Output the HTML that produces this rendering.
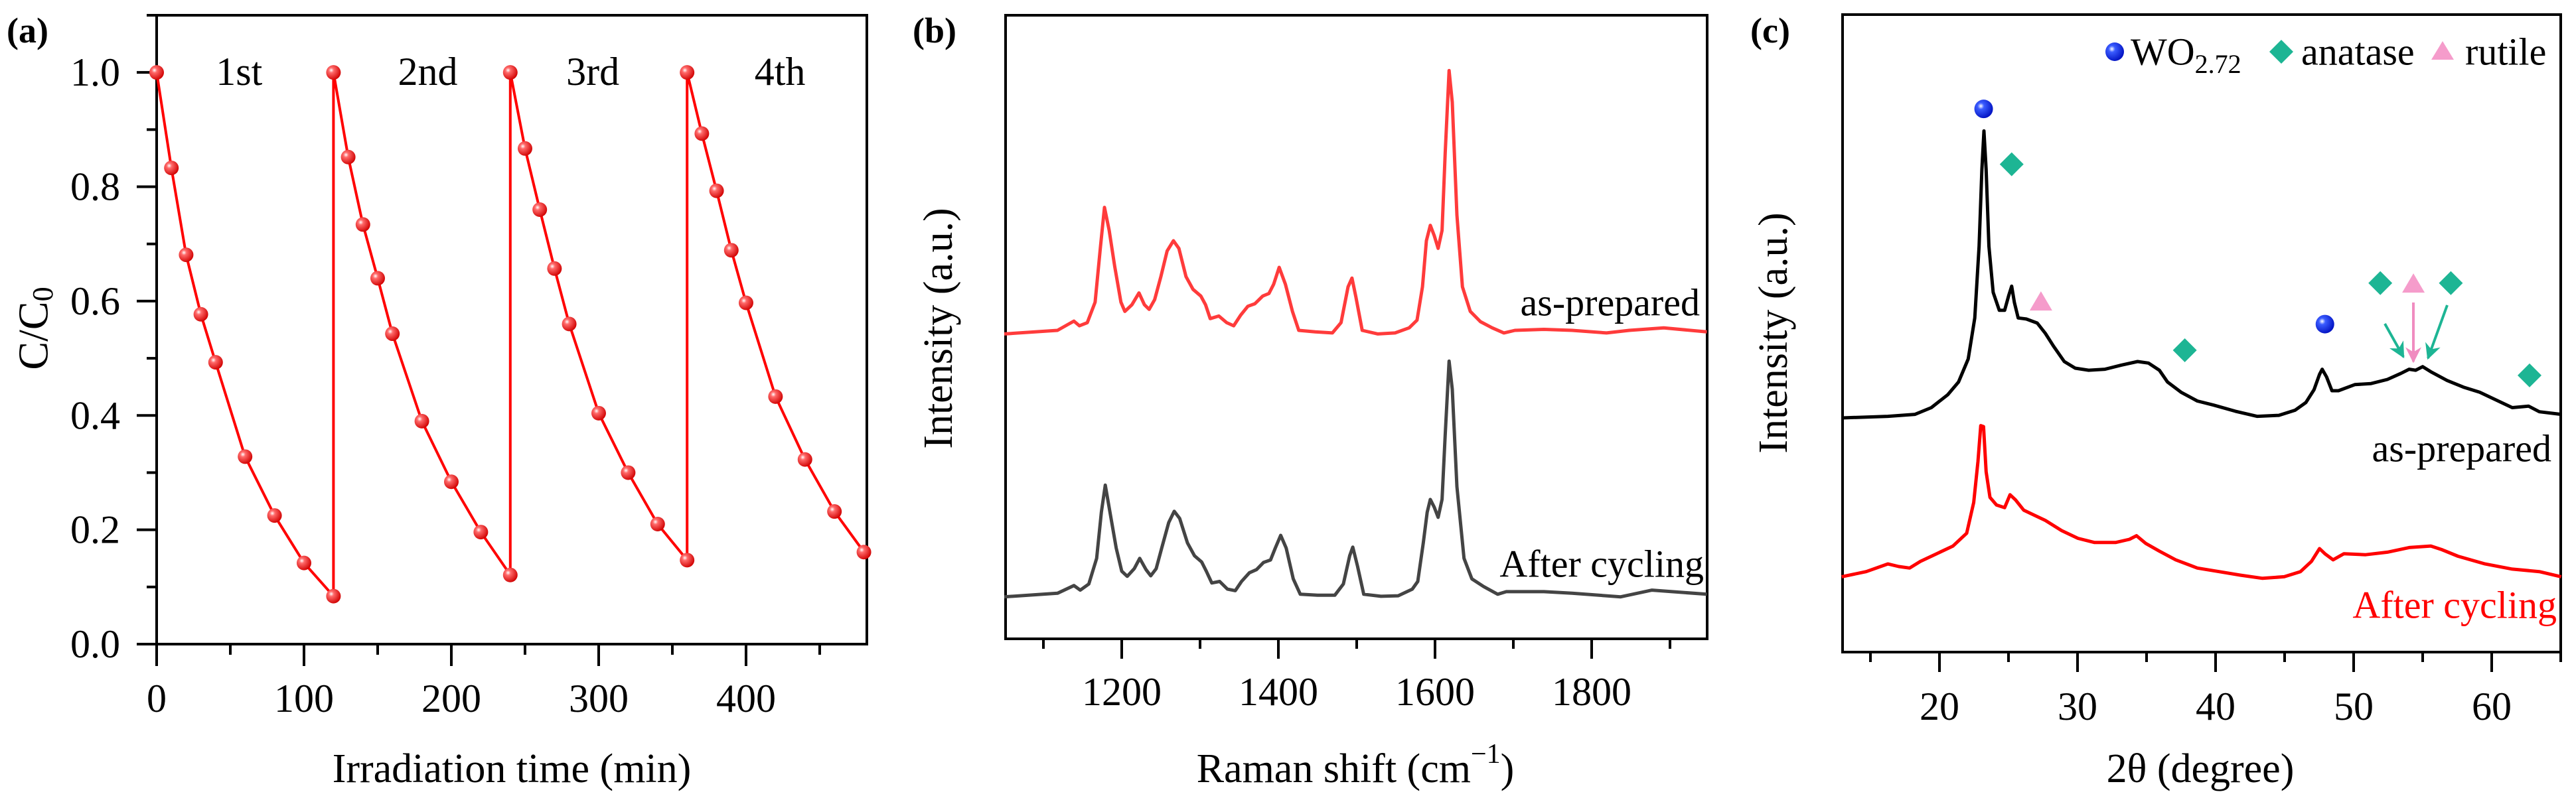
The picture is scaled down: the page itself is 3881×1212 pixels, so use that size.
<!DOCTYPE html>
<html><head><meta charset="utf-8">
<style>
html,body{margin:0;padding:0;background:#fff;}
svg{display:block;font-family:"Liberation Serif","DejaVu Serif",serif;}
</style></head>
<body>
<svg id="fig" width="3881" height="1212" viewBox="0 0 3881 1212" xmlns="http://www.w3.org/2000/svg">
<defs>
<radialGradient id="gRed" cx="0.35" cy="0.35" r="0.7"><stop offset="0" stop-color="#fff"/><stop offset="0.25" stop-color="#ff6a6a"/><stop offset="1" stop-color="#d00000"/></radialGradient>
<radialGradient id="gBlue" cx="0.35" cy="0.35" r="0.7"><stop offset="0" stop-color="#fff"/><stop offset="0.25" stop-color="#3a5cff"/><stop offset="1" stop-color="#0010c0"/></radialGradient>
<marker id="arrT" viewBox="0 0 10 10" refX="9" refY="5" markerWidth="6" markerHeight="6" orient="auto"><path d="M0,0 L10,5 L0,10 L3,5z" fill="#1db594"/></marker>
<marker id="arrP" viewBox="0 0 10 10" refX="9" refY="5" markerWidth="6" markerHeight="6" orient="auto"><path d="M0,0 L10,5 L0,10 L3,5z" fill="#f08cc0"/></marker>
</defs>
</svg>
<script>
// ---------- Panel (a) data ----------
const aCycleTimes = [0,10,20,30,40,60,80,100,120];
const aValues = [1.0,0.833,0.681,0.577,0.493,0.328,0.225,0.142,0.084,
                 1.0,0.852,0.734,0.640,0.543,0.390,0.284,0.196,0.121,
                 1.0,0.867,0.760,0.657,0.560,0.404,0.300,0.210,0.147,
                 1.0,0.893,0.793,0.689,0.597,0.433,0.323,0.232,0.161];
const aCycleLabels = ["1st","2nd","3rd","4th"];
const aCycleLabelX = [56,184,296,423];
const aXTicks = [0,100,200,300,400];
const aYTicks = [0.0,0.2,0.4,0.6,0.8,1.0];

// ---------- Panel (b) data ----------
const bRedX = [1050,1118,1133,1139,1146,1156,1166,1173,1178,1184,1191,1199,1204,1213,1222,1229,1235,1242,1250,1258,1266,1273,1282,1291,1301,1307,1313,1324,1334,1343,1352,1361,1370,1380,1388,1394,1401,1409,1418,1426,1447,1469,1480,1489,1494,1499,1507,1527,1549,1567,1577,1584,1589,1594,1599,1604,1609,1613,1618,1622,1628,1635,1645,1658,1673,1688,1702,1739,1775,1819,1848,1892,1947];
const bRedY = [595,602,615,620,611,617,657,767,842,797,727,657,639,652,675,652,643,662,707,757,777,762,707,682,669,652,625,630,617,611,632,649,654,669,674,692,725,692,639,602,599,597,617,687,704,667,602,595,597,607,622,687,777,807,787,762,797,947,1109,1047,827,687,639,619,607,597,602,604,602,597,602,607,599];
const bGrayX = [1050,1118,1139,1147,1158,1168,1174,1179,1185,1193,1200,1207,1216,1223,1231,1237,1244,1251,1260,1267,1274,1284,1293,1302,1308,1315,1325,1335,1345,1353,1363,1372,1381,1390,1396,1403,1410,1419,1428,1450,1472,1483,1491,1495,1501,1509,1531,1553,1571,1578,1585,1590,1594,1599,1604,1609,1613,1618,1622,1628,1637,1647,1662,1680,1691,1739,1775,1837,1877,1947];
const bGrayY = [82,89,104,95,107,157,247,300,247,177,132,122,137,157,135,123,137,177,227,249,235,187,162,150,132,109,112,97,94,112,129,135,149,154,177,202,177,117,87,85,85,107,162,179,142,87,83,84,97,112,187,247,272,257,237,272,397,542,487,297,157,117,102,87,92,92,89,82,95,87];
const bXTicks = [1200,1400,1600,1800];

// ---------- Panel (c) data ----------
const cBlackX = [12.92,16.26,18.23,19.41,20.59,21.38,22.08,22.56,22.87,23.07,23.22,23.38,23.58,23.89,24.33,24.72,25.03,25.23,25.43,25.70,26.29,27.08,27.67,28.26,29.04,29.83,30.81,31.99,33.17,34.35,35.14,35.93,36.52,37.50,38.68,39.86,41.43,43.00,44.58,45.76,46.54,47.13,47.53,47.72,48.04,48.43,48.90,50.08,51.26,52.44,53.43,54.02,54.49,55.00,55.59,56.77,57.95,59.13,60.31,61.49,62.67,63.45,65.03];
const cBlackY = [457,460,464,477,502,527,572,652,792,942,1017,942,792,702,667,667,697,714,682,652,650,642,622,597,567,554,550,552,560,567,564,550,527,507,490,482,470,460,462,472,487,512,542,552,537,510,510,522,524,532,544,552,550,557,547,530,517,507,492,477,480,469,464];
const cRedX = [12.92,14.69,16.26,17.05,17.84,18.62,19.80,20.98,21.97,22.48,22.79,22.99,23.19,23.38,23.66,24.13,24.72,25.11,25.51,26.10,26.88,27.67,28.85,30.03,31.21,32.78,33.76,34.27,34.94,35.93,37.11,38.68,40.25,41.82,43.40,44.97,46.15,46.94,47.53,47.92,48.51,49.30,50.87,52.44,54.02,55.59,56.38,57.56,59.52,61.49,63.45,65.03];
const cRedY = [147,157,172,167,164,177,192,207,232,292,372,442,440,352,302,287,282,307,297,277,267,257,237,222,214,214,220,227,212,197,180,164,157,150,144,147,157,177,202,192,180,192,190,195,204,207,200,187,172,162,157,147];
const cMarkType = ["wo","ana","rut","ana","wo","ana","rut","ana","ana"];
const cMarkX = [23.2,25.23,27.35,37.77,47.92,51.93,54.33,57.04,62.74];
const cMarkY = [1060,952,682,589,640,720,717,720,540];
const cXTicks = [20,30,40,50,60];

// ---------- helpers ----------
const NS="http://www.w3.org/2000/svg";
const svg=document.getElementById('fig');
function mk(tag,attrs,parent){const e=document.createElementNS(NS,tag);for(const k in attrs)e.setAttribute(k,attrs[k]);(parent||svg).appendChild(e);return e;}
function txt(s,x,y,size,anchor,parent,extra){const t=mk('text',Object.assign({x:x,y:y,'font-size':size,'text-anchor':anchor||'middle','dominant-baseline':'central',fill:'#000'},extra||{}),parent);t.textContent=s;return t;}
function lin(d0,d1,r0,r1){return v=>r0+(v-d0)*(r1-r0)/(d1-d0);}

// ================= Panel A =================
(function(){
 const g=mk('g',{});
 
 
 const L=236,R=1306,T=23,B=971;
 const x=lin(0,482,L,R), y=lin(0,1.1,B,T);
 const fr=mk('rect',{x:L,y:T,width:R-L,height:B-T,fill:'none',stroke:'#000','stroke-width':4},g);
 
 
 for(let v=0;v<=480;v+=50){const big=v%100===0;const t=mk('line',{x1:x(v),x2:x(v),y1:B,y2:B+(big?33:16),stroke:'#000','stroke-width':4},g);
  
  }
 aXTicks.forEach(v=>{const t=txt(String(v),x(v),1053,60,'middle',g);
  
  });
 for(let i=0;i<=11;i++){const v=i*0.1;const big=i%2===0;const t=mk('line',{x1:L,x2:L-(big?30:15),y1:y(v),y2:y(v),stroke:'#000','stroke-width':4},g);
  
  }
 aYTicks.forEach(v=>{const t=txt(v.toFixed(1),181,y(v),60,'end',g);
  
  });
 const seqT=[],seqV=[];
 for(let c=0;c<4;c++){for(let j=0;j<aCycleTimes.length;j++){seqT.push(c*120+aCycleTimes[j]);seqV.push(aValues[c*9+j]);}}
 let d='';
 seqT.forEach((t,i)=>{d+=(i?'L':'M')+x(t).toFixed(1)+','+y(seqV[i]).toFixed(1);});
 const p=mk('path',{d:d,fill:'none',stroke:'#f00','stroke-width':4},g);
 
 
 seqT.forEach((t,i)=>{const c=mk('circle',{cx:x(t),cy:y(seqV[i]),r:11,fill:'url(#gRed)'},g);
  
  });
 aCycleLabels.forEach((s,i)=>{const t=txt(s,x(aCycleLabelX[i]),108,60,'middle',g);
  
  });
 const yt=txt('',50,495,64,'middle',g,{transform:'rotate(-90 50 495)'});
 yt.innerHTML='C/C<tspan font-size="44" dy="14">0</tspan>';
 
 
 const xt=txt('Irradiation time (min)',771,1159,62,'middle',g);
 
 
 const pl=txt('(a)',10,46,54,'start',g,{'font-weight':'bold'});
 
 
})();

// ================= Panel B =================
(function(){
 const g=mk('g',{});
 
 
 const L=1515,R=2572,T=23,B=963;
 const x=lin(1200,1400,1690,1926), y=lin(0,1217,B,T);
 const fr=mk('rect',{x:L,y:T,width:R-L,height:B-T,fill:'none',stroke:'#000','stroke-width':4},g);
 
 
 for(let v=1100;v<=1900;v+=100){const big=v%200===0;const t=mk('line',{x1:x(v),x2:x(v),y1:B,y2:B+(big?30:15),stroke:'#000','stroke-width':4},g);
  
  }
 bXTicks.forEach(v=>{const t=txt(String(v),x(v),1043,60,'middle',g);
  
  });
 function curve(X,Y,col,name){let d='';X.forEach((v,i)=>{d+=(i?'L':'M')+x(v).toFixed(1)+','+y(Y[i]).toFixed(1);});
  const p=mk('path',{d:d,fill:'none',stroke:col,'stroke-width':5,'stroke-linejoin':'round'},g);
  
  }
 curve(bRedX,bRedY,'#ff3b3b','raman-as-prepared');
 curve(bGrayX,bGrayY,'#444','raman-after-cycling');
 let t=txt('as-prepared',2561,456,58,'end',g);
 
 
 t=txt('After cycling',2567,850,58,'end',g);
 
 
 t=txt('Intensity (a.u.)',1414,495,62,'middle',g,{transform:'rotate(-90 1414 495)'});
 
 
 t=txt('',2042,1159,62,'middle',g);
 t.innerHTML='Raman shift (cm<tspan font-size="42" dy="-22">−1</tspan><tspan dy="22">)</tspan>';
 
 
 t=txt('(b)',1375,46,54,'start',g,{'font-weight':'bold'});
 
 
})();

// ================= Panel C =================
(function(){
 const g=mk('g',{});
 
 
 const L=2776,R=3858,T=22,B=983;
 const x=lin(20,30,2922,3130), y=lin(0,1244,B,T);
 const fr=mk('rect',{x:L,y:T,width:R-L,height:B-T,fill:'none',stroke:'#000','stroke-width':4},g);
 
 
 for(let v=15;v<=65;v+=5){const big=v%10===0;const t=mk('line',{x1:x(v),x2:x(v),y1:B,y2:B+(big?30:15),stroke:'#000','stroke-width':4},g);
  
  }
 cXTicks.forEach(v=>{const t=txt(String(v),x(v),1065,60,'middle',g);
  
  });
 function curve(X,Y,col,name){let d='';X.forEach((v,i)=>{d+=(i?'L':'M')+x(v).toFixed(1)+','+y(Y[i]).toFixed(1);});
  const p=mk('path',{d:d,fill:'none',stroke:col,'stroke-width':5,'stroke-linejoin':'round'},g);
  
  }
 curve(cBlackX,cBlackY,'#000','xrd-as-prepared');
 curve(cRedX,cRedY,'#f00','xrd-after-cycling');
 function marker(type,cx,cy){let e;
  if(type==='wo'){e=mk('circle',{cx:cx,cy:cy,r:14,fill:'url(#gBlue)'},g);}
  else if(type==='ana'){e=mk('path',{d:`M${cx},${cy-18}L${cx+18},${cy}L${cx},${cy+18}L${cx-18},${cy}Z`,fill:'#1db594'},g);}
  else {e=mk('path',{d:`M${cx},${cy-17}L${cx+17},${cy+12}L${cx-17},${cy+12}Z`,fill:'#f59ccb'},g);}
  return e;}
 cMarkType.forEach((tp,i)=>{const e=marker(tp,x(cMarkX[i]),y(cMarkY[i]));
  
  });
 let a=mk('line',{x1:3593,y1:488,x2:3621,y2:538,stroke:'#1db594','stroke-width':4,'marker-end':'url(#arrT)'},g);
 
 
 a=mk('line',{x1:3636,y1:456,x2:3636,y2:545,stroke:'#f08cc0','stroke-width':4,'marker-end':'url(#arrP)'},g);
 
 
 a=mk('line',{x1:3687,y1:460,x2:3658,y2:540,stroke:'#1db594','stroke-width':4,'marker-end':'url(#arrT)'},g);
 
 
 const lg=mk('g',{},g);
 
 
 let e=mk('circle',{cx:3186,cy:78,r:14,fill:'url(#gBlue)'},lg);
 
 
 let t=txt('',3210,78,58,'start',lg);
 t.innerHTML='WO<tspan font-size="40" dy="18">2.72</tspan>';
 
 
 e=mk('path',{d:'M3437,60L3455,78L3437,96L3419,78Z',fill:'#1db594'},lg);
 
 
 t=txt('anatase',3467,78,58,'start',lg);
 
 
 e=mk('path',{d:'M3680,62L3697,90L3663,90Z',fill:'#f59ccb'},lg);
 
 
 t=txt('rutile',3714,78,58,'start',lg);
 
 
 t=txt('as-prepared',3844,676,58,'end',g);
 
 
 t=txt('After cycling',3852,912,58,'end',g,{fill:'#f00'});
 
 
 t=txt('Intensity (a.u.)',2672,502,62,'middle',g,{transform:'rotate(-90 2672 502)'});
 
 
 t=txt('2θ (degree)',3315,1159,62,'middle',g);
 
 
 t=txt('(c)',2637,46,54,'start',g,{'font-weight':'bold'});
 
 
})();
</script>
</body></html>
